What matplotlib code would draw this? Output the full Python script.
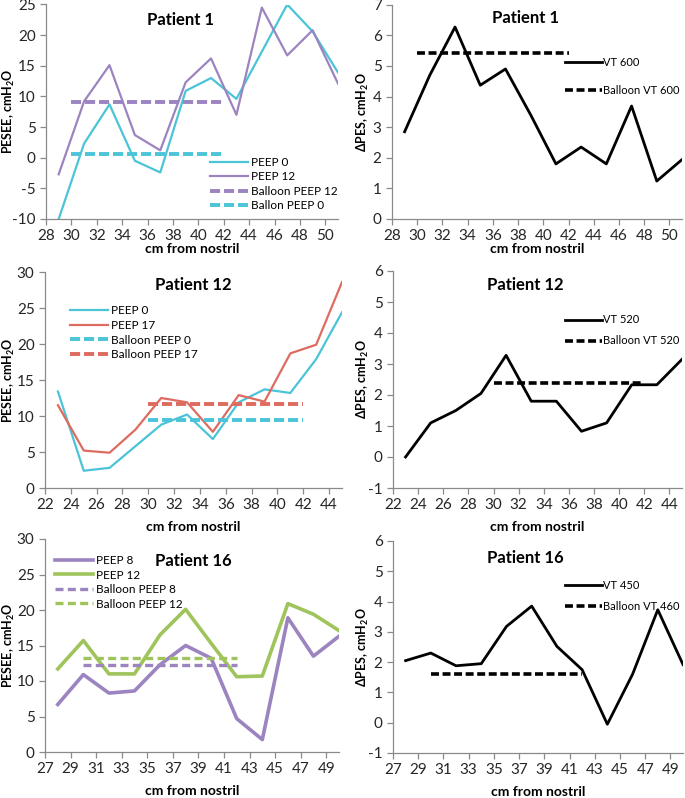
import numpy as np
import matplotlib
matplotlib.use('Agg')
import matplotlib.pyplot as plt

plt.rcParams['font.family'] = ['Lato', 'DejaVu Sans']
plt.rcParams['mathtext.fontset'] = 'custom'
plt.rcParams['mathtext.rm'] = 'Lato'
plt.rcParams['mathtext.bf'] = 'Lato:bold'
plt.rcParams['axes.unicode_minus'] = False

CYAN = '#4bc4d8'
PURPLE = '#9b84c0'
RED = '#de6b60'
GREEN = '#9fc45c'

# Patient 1
p1_x = [29, 31, 33, 35, 37, 39, 41, 43, 45, 47, 49, 51]
p1_peep0 = [-10, 2.3, 8.7, -0.5, -2.4, 10.9, 13.0, 9.6, 17.3, 25.0, 20.6, 13.9]
p1_peep12 = [-2.7, 9.2, 15.1, 3.7, 1.2, 12.3, 16.2, 7.0, 24.5, 16.7, 20.8, 12.1]
p1_balloon_peep12 = 9.1
p1_balloon_peep0 = 0.6
p1_dpes = [2.85, 4.7, 6.27, 4.37, 4.9, 3.4, 1.8, 2.35, 1.8, 3.69, 1.24, 1.94]
p1_balloon_vt = 5.42

# Patient 12
p12_x = [23, 25, 27, 29, 31, 33, 35, 37, 39, 41, 43, 45]
p12_peep0 = [13.4, 2.4, 2.8, 5.8, 8.8, 10.2, 6.8, 11.9, 13.7, 13.2, 17.9, 24.4]
p12_peep17 = [11.5, 5.2, 4.9, 8.1, 12.5, 11.9, 7.8, 12.9, 12.0, 18.7, 19.9, 28.6]
p12_balloon_peep0 = 9.5
p12_balloon_peep17 = 11.7
p12_dpes = [0.0, 1.1, 1.5, 2.05, 3.28, 1.8, 1.8, 0.83, 1.1, 2.33, 2.33, 3.15]
p12_balloon_vt = 2.4

# Patient 16
p16_x = [28, 30, 32, 34, 36, 38, 40, 42, 44, 46, 48, 50]
p16_peep8 = [6.7, 10.9, 8.3, 8.6, 12.3, 15.0, 13.2, 4.7, 1.75, 18.9, 13.5, 16.3]
p16_peep12 = [11.7, 15.7, 11.0, 11.0, 16.5, 20.1, 15.3, 10.6, 10.7, 20.9, 19.4, 17.1]
p16_balloon_peep8 = 12.3
p16_balloon_peep12 = 13.3
p16_dpes = [2.05, 2.3, 1.88, 1.95, 3.18, 3.85, 2.52, 1.75, -0.05, 1.6, 3.73, 1.92]
p16_balloon_vt = 1.6

balloon_range = [30, 42]

W, H = 685, 798
fig = plt.figure(figsize=(W / 100, H / 100), dpi=100)

COLOR_DASH = (0, (2.6, 1.0))
BLACK_DASH = (0, (2.2, 1.0))


def make_axes(left, right, top, bottom):
    return fig.add_axes([left / W, 1 - bottom / H, (right - left) / W, (bottom - top) / H])


def style(ax, xlim, xticks, ylim, yticks, ylabel, ylabel_px, title, tx, ty, xlabelpad):
    ax.set_xlim(*xlim)
    ax.set_ylim(*ylim)
    ax.set_xticks(xticks)
    ax.set_yticks(yticks)
    for s in ['top', 'right']:
        ax.spines[s].set_visible(False)
    for s in ['left', 'bottom']:
        ax.spines[s].set_color('#8a8a8a')
        ax.spines[s].set_linewidth(0.9)
    ax.tick_params(direction='out', length=4, width=0.9, color='#8a8a8a',
                   labelsize=11, labelcolor='#262626')
    ax.set_ylabel(ylabel, fontsize=9, fontweight='bold')
    # label hangs to the left of this x (its right edge sits here)
    pos = ax.get_position()
    ax.yaxis.set_label_coords(ylabel_px / W, pos.y0 + pos.height / 2, transform=fig.transFigure)
    ax.set_xlabel('cm from nostril', fontsize=10, fontweight='bold', labelpad=xlabelpad)
    ax.text(tx, ty, title, transform=ax.transAxes, ha='center', va='center',
            fontsize=12, fontweight='bold')


pesee_label = r'PESEE, cmH$_\mathbf{2}$O'
dpes_label = r'ΔPES, cmH$_\mathbf{2}$O'

# ---- Patient 1 left
ax = make_axes(46, 338, 4.5, 219)
ax.plot(p1_x, p1_peep0, color=CYAN, lw=1.6, label='PEEP 0')
ax.plot(p1_x, p1_peep12, color=PURPLE, lw=1.6, label='PEEP 12')
ax.plot(balloon_range, [p1_balloon_peep12] * 2, color=PURPLE, lw=2.8, ls=COLOR_DASH, label='Balloon PEEP 12')
ax.plot(balloon_range, [p1_balloon_peep0] * 2, color=CYAN, lw=2.8, ls=COLOR_DASH, label='Ballon PEEP 0')
style(ax, (28, 51), range(28, 51, 2), (-10, 25), range(-10, 26, 5), pesee_label, 17,
      'Patient 1', 0.459, 0.93, 0)
ax.legend(loc='upper left', bbox_to_anchor=(0.562, 0.29), frameon=False, fontsize=8.5,
          borderpad=0, borderaxespad=0, handlelength=3.2, handletextpad=0.3, labelspacing=0.3)

# ---- Patient 1 right
ax = make_axes(392, 682, 4.7, 219)
ax.plot(p1_x, p1_dpes, color='black', lw=2, label='VT 600')
ax.plot(balloon_range, [p1_balloon_vt] * 2, color='black', lw=2.6, ls=BLACK_DASH, label='Balloon VT 600')
style(ax, (28, 51), range(28, 51, 2), (0, 7), range(0, 8), dpes_label, 371,
      'Patient 1', 0.459, 0.938, 0)
ax.legend(loc='upper left', bbox_to_anchor=(0.597, 0.755), frameon=False, fontsize=8,
          borderpad=0, borderaxespad=0, handlelength=3.3, handletextpad=0.1, labelspacing=1.5)

# ---- Patient 12 left
ax = make_axes(45, 342, 272, 488)
ax.plot(p12_x, p12_peep0, color=CYAN, lw=1.6, label='PEEP 0')
ax.plot(p12_x, p12_peep17, color=RED, lw=1.6, label='PEEP 17')
ax.plot(balloon_range, [p12_balloon_peep0] * 2, color=CYAN, lw=2.8, ls=COLOR_DASH, label='Balloon PEEP 0')
ax.plot(balloon_range, [p12_balloon_peep17] * 2, color=RED, lw=2.8, ls=COLOR_DASH, label='Balloon PEEP 17')
style(ax, (22, 45), range(22, 45, 2), (0, 30), range(0, 31, 5), pesee_label, 17,
      'Patient 12', 0.498, 0.94, 6)
ax.legend(loc='upper left', bbox_to_anchor=(0.084, 0.845), frameon=False, fontsize=8.5,
          borderpad=0, borderaxespad=0, handlelength=3.2, handletextpad=0.3, labelspacing=0.3)

# ---- Patient 12 right
ax = make_axes(393, 682, 271, 488)
ax.plot(p12_x, p12_dpes, color='black', lw=2, label='VT 520')
ax.plot(balloon_range, [p12_balloon_vt] * 2, color='black', lw=2.6, ls=BLACK_DASH, label='Balloon VT 520')
style(ax, (22, 45), range(22, 45, 2), (-1, 6), range(-1, 7), dpes_label, 371,
      'Patient 12', 0.457, 0.935, 6)
ax.legend(loc='upper left', bbox_to_anchor=(0.595, 0.8), frameon=False, fontsize=8,
          borderpad=0, borderaxespad=0, handlelength=3.3, handletextpad=0.1, labelspacing=0.9)

# ---- Patient 16 left
ax = make_axes(45, 339, 539, 752)
ax.plot(p16_x, p16_peep8, color=PURPLE, lw=2.6, label='PEEP 8')
ax.plot(p16_x, p16_peep12, color=GREEN, lw=2.6, label='PEEP 12')
ax.plot(balloon_range, [p16_balloon_peep8] * 2, color=PURPLE, lw=2.4, ls=(0, (2.4, 1.3)), label='Balloon PEEP 8')
ax.plot(balloon_range, [p16_balloon_peep12] * 2, color=GREEN, lw=2.4, ls=(0, (2.4, 1.3)), label='Balloon PEEP 12')
style(ax, (27, 50), range(27, 50, 2), (0, 30), range(0, 31, 5), pesee_label, 17,
      'Patient 16', 0.503, 0.897, 6)
ax.legend(loc='upper left', bbox_to_anchor=(0.034, 0.925), frameon=False, fontsize=8.5,
          borderpad=0, borderaxespad=0, handlelength=3.2, handletextpad=0.3, labelspacing=0.3)

# ---- Patient 16 right
ax = make_axes(393, 683, 541, 753)
ax.plot(p16_x, p16_dpes, color='black', lw=2, label='VT 450')
ax.plot(balloon_range, [p16_balloon_vt] * 2, color='black', lw=2.6, ls=BLACK_DASH, label='Balloon VT 460')
style(ax, (27, 50), range(27, 50, 2), (-1, 6), range(-1, 7), dpes_label, 371,
      'Patient 16', 0.455, 0.92, 6)
ax.legend(loc='upper left', bbox_to_anchor=(0.593, 0.815), frameon=False, fontsize=8,
          borderpad=0, borderaxespad=0, handlelength=3.3, handletextpad=0.1, labelspacing=0.9)

fig.savefig('out.png', dpi=100)
